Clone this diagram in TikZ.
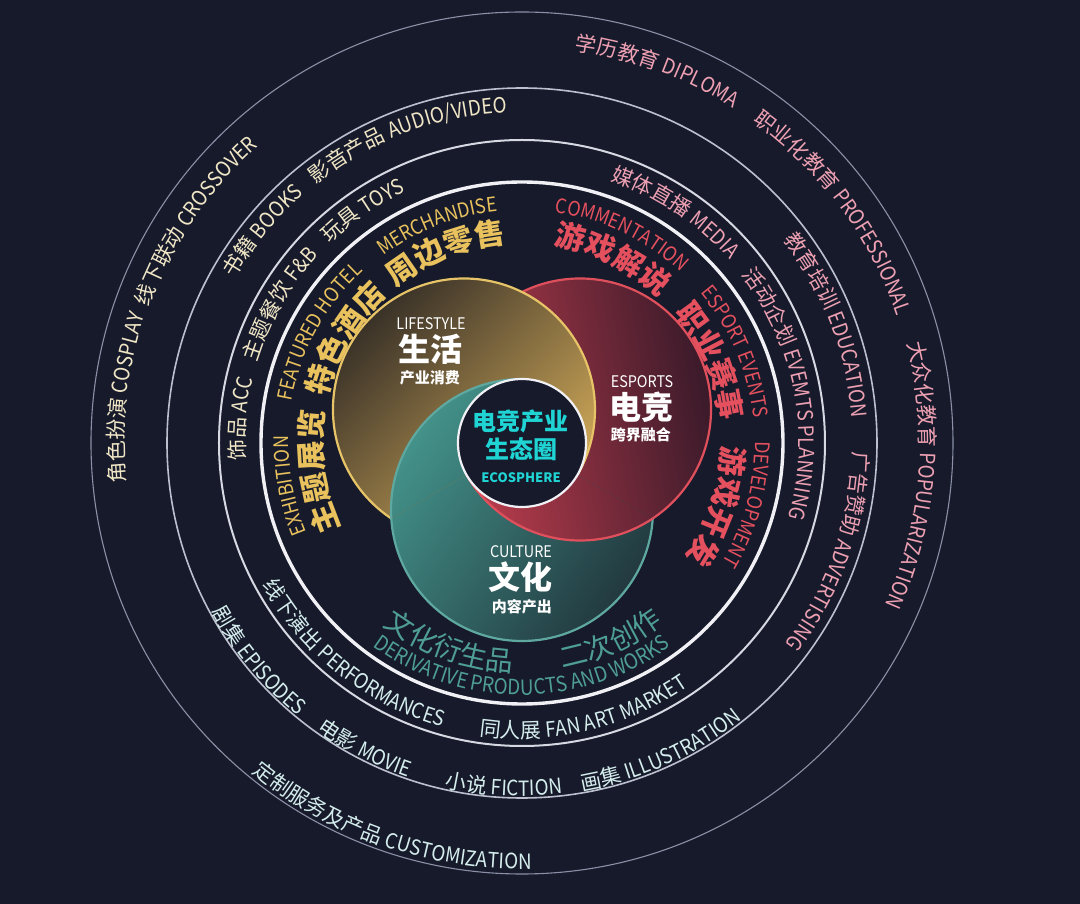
\documentclass[tikz,border=0pt]{standalone}
\usepackage{fontspec}
\setmainfont{Noto Sans CJK SC}
\newfontfamily\cjk{Noto Sans CJK SC}
\newfontfamily\enf{Noto Sans CJK SC}[FakeStretch=0.9]
\usetikzlibrary{decorations.text}
\definecolor{bg}{HTML}{161A2B}
\definecolor{ringA}{HTML}{8C90A6}
\definecolor{ringB}{HTML}{BCC0CE}
\definecolor{ringC}{HTML}{D6D8E2}
\definecolor{ringD}{HTML}{F0F0F5}
\definecolor{golddk}{HTML}{3A3228}
\definecolor{goldmd}{HTML}{8A7044}
\definecolor{goldlt}{HTML}{D4AC5A}
\definecolor{goldln}{HTML}{E8C468}
\definecolor{redlt}{HTML}{C03E4E}
\definecolor{reddk}{HTML}{3A1A2A}
\definecolor{redln}{HTML}{E0505C}
\definecolor{teallt}{HTML}{43928A}
\definecolor{tealdk}{HTML}{22393F}
\definecolor{tealln}{HTML}{5FA8A0}
\definecolor{creamt}{HTML}{F0E6C6}
\definecolor{pinkt}{HTML}{EDA0B2}
\definecolor{cyanlt}{HTML}{D4ECEC}
\definecolor{goldt}{HTML}{E9C25E}
\definecolor{redt}{HTML}{E4505E}
\definecolor{tealt}{HTML}{4F9E96}
\definecolor{cyant}{HTML}{20D4D4}
% text along a clockwise arc (upright outward): radius, centre angle, half span, format, text
\newcommand\cwtext[5]{\path[decorate,decoration={text along path,text align=center,text={|#4|#5}}]
  ({#2+#3}:#1) arc[start angle={#2+#3},end angle={#2-#3},radius=#1];}
% text along a counter-clockwise arc (bottom, upright inward)
\newcommand\ccwtext[5]{\path[decorate,decoration={text along path,text align=center,text={|#4|#5}}]
  ({#2-#3}:#1) arc[start angle={#2-#3},end angle={#2+#3},radius=#1];}
\newcommand\fs[1]{\cjk\fontsize{#1}{#1}\selectfont}
\newcommand\fsb[1]{\cjk\bfseries\fontsize{#1}{#1}\selectfont}
\newcommand\fe[1]{\enf\fontsize{#1}{#1}\selectfont}
\newcommand\goldC{\shade[top color=golddk, middle color=goldmd, bottom color=goldlt, shading angle=45] (G) circle[radius=131];
  \draw[goldln, line width=2.2] (G) circle[radius=131];}
\newcommand\redC{\shade[top color=redlt, bottom color=reddk, shading angle=100] (R) circle[radius=131];
  \draw[redln, line width=2.2] (R) circle[radius=131];}
\newcommand\tealC{\shade[top color=teallt, bottom color=tealdk, shading angle=55] (T) circle[radius=131];
  \draw[tealln, line width=2.2] (T) circle[radius=131];}
\begin{document}
\begin{tikzpicture}[x=1pt,y=1pt,
  lbl/.style={inner sep=0pt, text=white},
  cen/.style={inner sep=0pt, text=cyant}]
\useasboundingbox (-522,-461) rectangle (558,443);
\fill[bg] (-522,-461) rectangle (558,443);
\coordinate (O) at (0,0);
\coordinate (G) at (150:67);
\coordinate (R) at (30:67);
\coordinate (T) at (270:67);
% rings
\draw[ringA, line width=1.1] (O) circle[radius=431];
\draw[ringB, line width=1.6] (O) circle[radius=355];
\draw[ringC, line width=2.0] (O) circle[radius=303];
\draw[ringD, line width=3.4] (O) circle[radius=261];
% venn (pinwheel order)
\begin{scope}
  \clip (O) -- (-30:500) -- (30:500) -- (90:500) -- cycle;
  \tealC \redC \goldC
\end{scope}
\begin{scope}
  \clip (O) -- (90:500) -- (150:500) -- (210:500) -- cycle;
  \redC \goldC \tealC
\end{scope}
\begin{scope}
  \clip (O) -- (210:500) -- (270:500) -- (330:500) -- cycle;
  \goldC \tealC \redC
\end{scope}
\fill[bg] (O) circle[radius=64];
\draw[ringD, line width=2.2] (O) circle[radius=64];
% outer band
\cwtext{396}{70}{80}{\fs{21}\color{pinkt}}{学历教育 |\fe{21}\color{pinkt}|DIPLOMA}
\cwtext{396}{36.5}{80}{\fs{21}\color{pinkt}}{职业化教育 |\fe{21}\color{pinkt}|PROFESSIONAL}
\cwtext{398}{-4.8}{80}{\fs{21}\color{pinkt}}{大众化教育 |\fe{21}\color{pinkt}|POPULARIZATION}
\cwtext{398}{173.5}{80}{\fs{21}\color{creamt}}{角色扮演 |\fe{21}\color{creamt}|COSPLAY}
\cwtext{397}{145.8}{80}{\fs{21}\color{creamt}}{线下联动 |\fe{21}\color{creamt}|CROSSOVER}
\ccwtext{426}{251}{80}{\fs{21}\color{cyanlt}}{定制服务及产品 |\fe{21}\color{cyanlt}|CUSTOMIZATION}
% band 2
\cwtext{331}{110.6}{80}{\fs{21}\color{creamt}}{影音产品 |\fe{21}\color{creamt}|AUDIO/VIDEO}
\cwtext{331}{140.7}{80}{\fs{21}\color{creamt}}{书籍 |\fe{21}\color{creamt}|BOOKS}
\cwtext{331}{21.1}{80}{\fs{21}\color{pinkt}}{教育培训 |\fe{21}\color{pinkt}|EDUCATION}
\cwtext{331}{-19.4}{80}{\fs{21}\color{pinkt}}{广告赞助 |\fe{21}\color{pinkt}|ADVERTISING}
\ccwtext{353}{219.6}{80}{\fs{21}\color{cyanlt}}{剧集 |\fe{21}\color{cyanlt}|EPISODES}
\ccwtext{353}{242.8}{80}{\fs{21}\color{cyanlt}}{电影 |\fe{21}\color{cyanlt}|MOVIE}
\ccwtext{353}{267}{80}{\fs{21}\color{cyanlt}}{小说 |\fe{21}\color{cyanlt}|FICTION}
\ccwtext{353}{294.2}{80}{\fs{21}\color{cyanlt}}{画集 |\fe{21}\color{cyanlt}|ILLUSTRATION}
% band 3
\cwtext{277}{124.4}{80}{\fs{21}\color{creamt}}{玩具 |\fe{21}\color{creamt}|TOYS}
\cwtext{277}{150.2}{80}{\fs{21}\color{creamt}}{主题餐饮 |\fe{21}\color{creamt}|F{\&}B}
\cwtext{277}{175}{80}{\fs{21}\color{creamt}}{饰品 |\fe{21}\color{creamt}|ACC}
\cwtext{277}{56.4}{80}{\fs{21}\color{pinkt}}{媒体直播 |\fe{21}\color{pinkt}|MEDIA}
\cwtext{277}{10.9}{80}{\fs{21}\color{pinkt}}{活动企划 |\fe{21}\color{pinkt}|EVEMTS PLANNING}
\ccwtext{295}{231.5}{80}{\fs{21}\color{cyanlt}}{线下演出 |\fe{21}\color{cyanlt}|PERFORMANCES}
\ccwtext{295}{283}{80}{\fs{21}\color{cyanlt}}{同人展 |\fe{21}\color{cyanlt}|FAN ART MARKET}
% inner band
\cwtext{233}{111.2}{80}{\fe{20}\color{goldt}}{MERCHANDISE}
\cwtext{234}{151.3}{80}{\fe{20}\color{goldt}}{FEATURED HOTEL}
\cwtext{233}{190.4}{80}{\fe{20}\color{goldt}}{EXHIBITION}
\cwtext{233}{64.5}{80}{\fe{20}\color{redt}}{COMMENTATION}
\cwtext{233}{23.1}{80}{\fe{20}\color{redt}}{ESPORT EVENTS}
\cwtext{233}{-15.2}{80}{\fe{20}\color{redt}}{DEVELOPMENT}
\cwtext{200}{111.8}{80}{\fsb{30}\color{goldt}}{周边零售}
\cwtext{200}{149.6}{80}{\fsb{30}\color{goldt}}{特色酒店}
\cwtext{200}{188}{80}{\fsb{30}\color{goldt}}{主题展览}
\cwtext{200}{63.8}{80}{\fsb{30}\color{redt}}{游戏解说}
\cwtext{200}{23.4}{80}{\fsb{30}\color{redt}}{职业赛事}
\cwtext{200}{-17.9}{80}{\fsb{30}\color{redt}}{游戏开发}
\ccwtext{229}{250.2}{80}{\fs{28}\color{tealt}}{文化衍生品}
\ccwtext{229}{294.2}{80}{\fs{28}\color{tealt}}{二次创作}
\ccwtext{252}{270}{80}{\fe{21}\color{tealt}}{DERIVATIVE PRODUCTS AND WORKS}
% venn labels
\node[lbl, font=\fe{16}] (lifeE) at (-91,119) {LIFESTYLE};
\node[lbl, font=\fsb{32}] (lifeC) at (-91,94) {生活};
\node[lbl, font=\fsb{15}] (lifeS) at (-92,65) {产业消费};
\node[lbl, font=\fe{16}] (espE) at (120,61) {ESPORTS};
\node[lbl, font=\fsb{32}] (espC) at (120,36) {电竞};
\node[lbl, font=\fsb{15}] (espS) at (119,8) {跨界融合};
\node[lbl, font=\fe{16}] (culE) at (-1,-109) {CULTURE};
\node[lbl, font=\fsb{32}] (culC) at (-1,-134) {文化};
\node[lbl, font=\fsb{15}] (culS) at (0,-164) {内容产出};
\node[cen, font=\fsb{24}] (eco1) at (-1,22) {电竞产业};
\node[cen, font=\fsb{24}] (eco2) at (0,-6) {生态圈};
\node[cen, font=\fsb{13}] (eco3) at (-1,-35) {ECOSPHERE};
\end{tikzpicture}
\end{document}
